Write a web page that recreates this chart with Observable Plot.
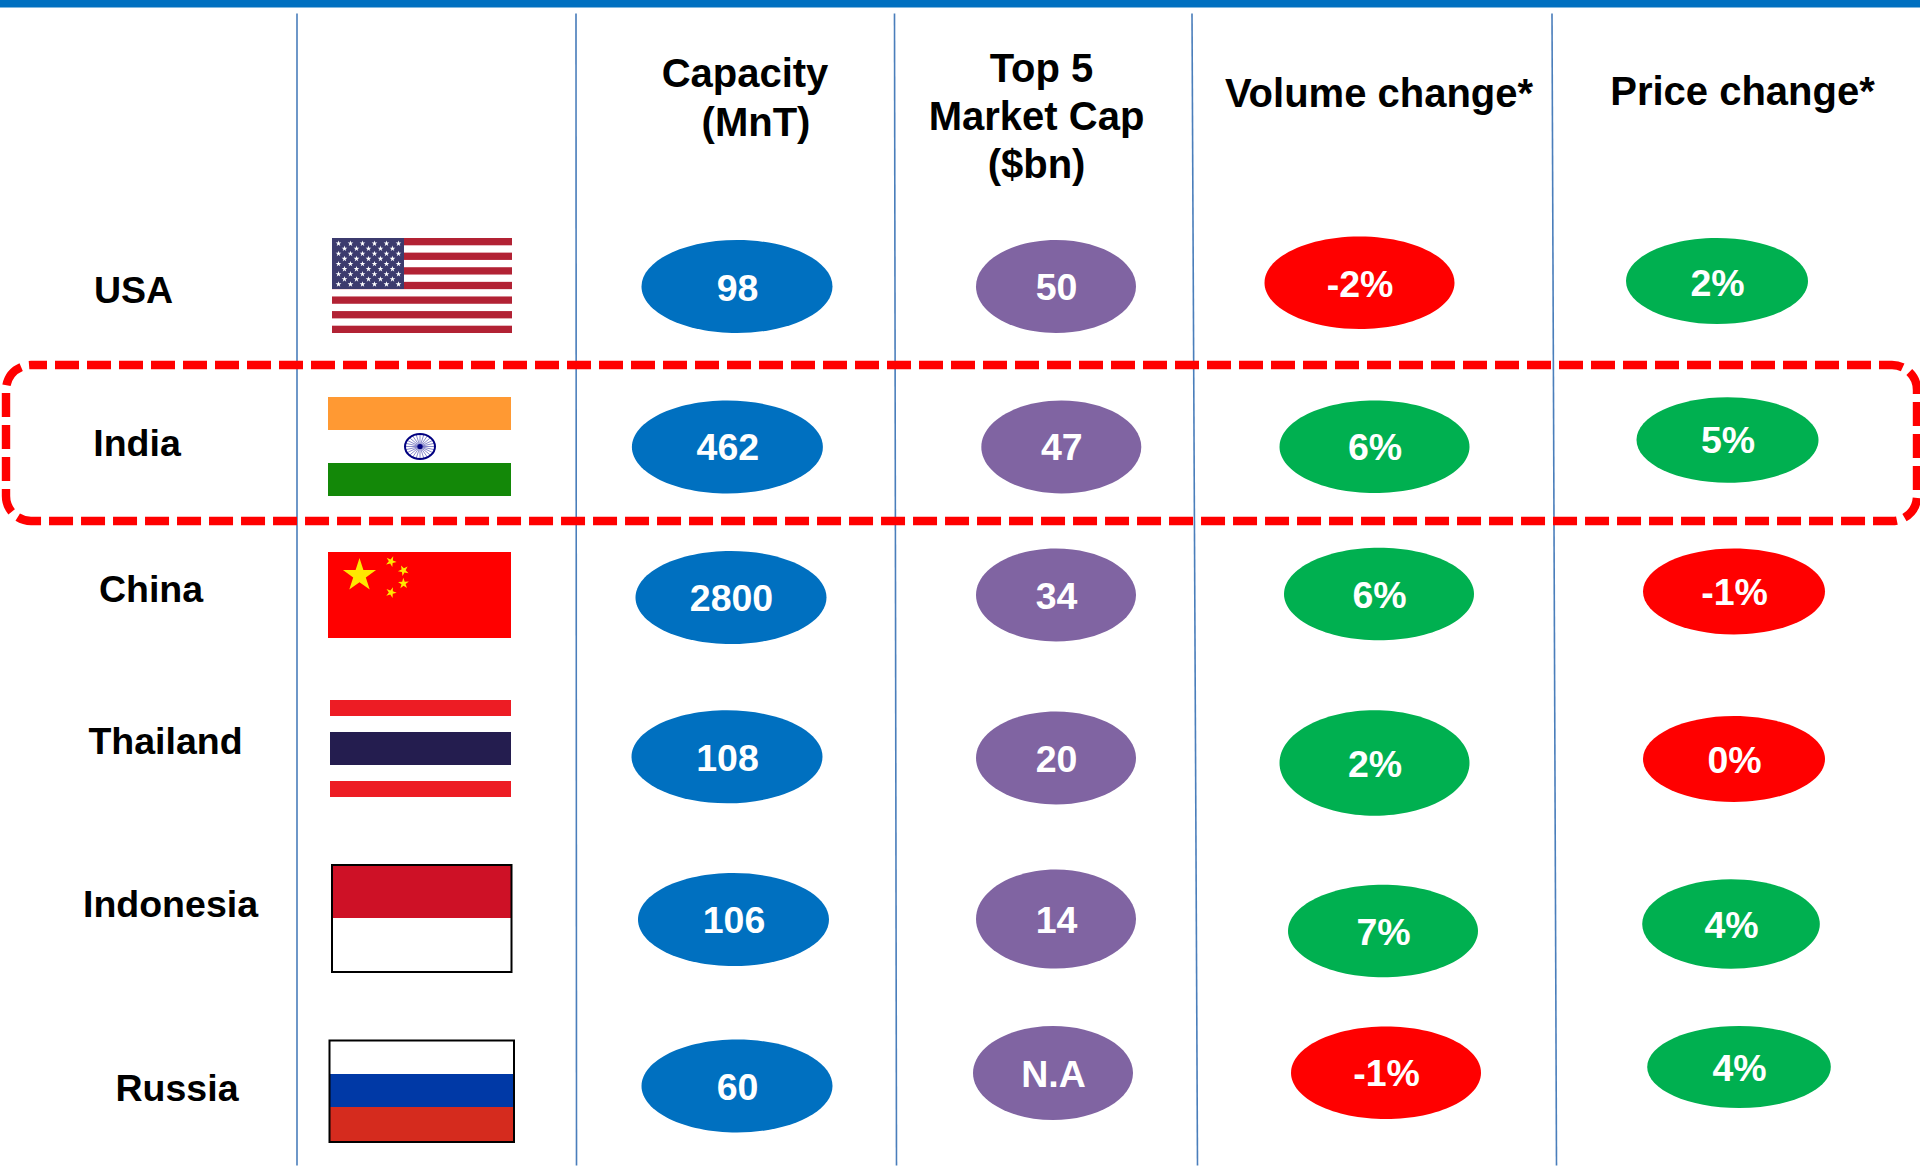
<!DOCTYPE html>
<html>
<head>
<meta charset="utf-8">
<style>
  html, body { margin: 0; padding: 0; background: #fff; }
  svg { display: block; }
</style>
<script src="https://cdn.jsdelivr.net/npm/d3@7"></script>
<script src="https://cdn.jsdelivr.net/npm/@observablehq/plot@0.6"></script>
</head>
<body>
<div id="chart"></div>
<script>
// Table contents
const countries = ["USA", "India", "China", "Thailand", "Indonesia", "Russia"];
const capacity = [98, 462, 2800, 108, 106, 60];
const marketCap = ["50", "47", "34", "20", "14", "N.A"];
const volumeChange = [-2, 6, 6, 2, 7, -1];
const priceChange = [2, 5, -1, 0, 4, 4];

// Layout of the sheet: every row and column is hand placed on a 1920 x 1168 canvas
const labelSpots = [[133, 290], [136.5, 443], [150.5, 589], [165, 741], [170, 904], [176.5, 1088]];
const capacitySpots = [[737, 286.5], [727.4, 447], [731, 597.5], [727, 756.8], [733.5, 919.6], [737, 1086]];
const capSpots = [[1056, 286.5], [1061.3, 447], [1056, 595], [1056, 758], [1056, 919], [1053, 1073]];
const volumeSpots = [[1359.5, 282.7], [1374.5, 446.7], [1379, 594], [1374.5, 763], [1383, 931], [1386, 1072.7]];
const priceSpots = [[1717, 281], [1727.5, 440], [1734, 591.4], [1734, 759], [1731, 924], [1739, 1067]];
const capRadii = [[80, 46.5], [80, 46.5], [80, 46.5], [80, 46.5], [80, 49.6], [80, 47]];
const volumeRadii = [[95, 46.3], [95, 46.3], [95, 46.3], [95, 52.7], [95, 46.3], [95, 46.3]];
const priceRadii = [[91, 43], [91, 42.7], [91, 43], [91, 43], [88.8, 44.7], [91.8, 41]];
// Numbers sit a little below the oval centres, most of all in the first row
const rowTextDrop = [2.2, 0.6, 1.2, 1.2, 1.2, 1.2];

const headerLines = [
  {text: "Capacity", x: 744.5, y: 73.5},
  {text: "(MnT)", x: 755.5, y: 123},
  {text: "Top 5", x: 1041, y: 68.6},
  {text: "Market Cap", x: 1036, y: 117},
  {text: "($bn)", x: 1036, y: 165},
  {text: "Volume change*", x: 1378.5, y: 94},
  {text: "Price change*", x: 1742, y: 92}
];

const rules = [
  {x1: 296.5, x2: 296.5}, {x1: 575.5, x2: 576}, {x1: 894, x2: 896},
  {x1: 1191.5, x2: 1197}, {x1: 1551.5, x2: 1556}
];

const BLUE = "#0070C0", PURPLE = "#8064A2", GREEN = "#00B050", RED = "#FF0000";

// Rectangular pieces of the six flags
const flagBands = [
  {x1: 332, x2: 512, y1: 238, y2: 333, fill: "#fff"},
  ...[0, 2, 4, 6, 8, 10, 12].map(i => ({x1: 332, x2: 512, y1: 238 + i * 95 / 13, y2: 238 + (i + 1) * 95 / 13, fill: "#B22234"})),
  {x1: 332, x2: 404, y1: 238, y2: 289, fill: "#3C3B6E"},
  {x1: 328, x2: 511, y1: 397, y2: 430, fill: "#FF9933"},
  {x1: 328, x2: 511, y1: 463, y2: 496, fill: "#138808"},
  {x1: 328, x2: 511, y1: 552, y2: 638, fill: "#FF0000"},
  {x1: 330, x2: 511, y1: 700, y2: 716, fill: "#ED1C24"},
  {x1: 330, x2: 511, y1: 732, y2: 765, fill: "#241D4F"},
  {x1: 330, x2: 511, y1: 781, y2: 797, fill: "#ED1C24"},
  {x1: 332, x2: 512, y1: 865, y2: 918, fill: "#CE1126"},
  {x1: 329, x2: 514, y1: 1074, y2: 1107, fill: "#0039A6"},
  {x1: 329, x2: 514, y1: 1107, y2: 1142, fill: "#D52B1E"}
];
const flagFrames = [
  {x1: 332, x2: 511.5, y1: 865, y2: 972},
  {x1: 329.5, x2: 514, y1: 1040.5, y2: 1142}
];

// Stars of the American canton: nine staggered rows
const usStars = [];
for (let row = 0; row < 9; ++row) {
  const n = row % 2 ? 5 : 6;
  for (let k = 0; k < n; ++k) usStars.push({x: (row % 2 ? 344 : 338) + k * 12, y: 243 + row * 5.1});
}
const cnStars = [
  {x: 359, y: 575, r: 10.4, rotate: 0},
  {x: 390.5, y: 561, r: 3.4, rotate: 23},
  {x: 403, y: 570, r: 3.4, rotate: 46},
  {x: 403, y: 583, r: 3.4, rotate: 70},
  {x: 390.5, y: 592, r: 3.4, rotate: 20}
];
// Ashoka chakra: 24 spokes around the hub
const chakra = {x: 419.5, y: 446, rx: 15, ry: 12.5};
const spokes = d3.range(24).map(i => {
  const a = i * Math.PI / 12;
  return {x1: chakra.x, y1: chakra.y, x2: chakra.x + chakra.rx * Math.cos(a), y2: chakra.y + chakra.ry * Math.sin(a)};
});

// Custom dot symbol: an ellipse whose height is `ratio` times its width
function ellipse(ratio) {
  const k = 0.5522848;
  return {
    draw(ctx, size) {
      const a = Math.sqrt(size / Math.PI), b = a * ratio;
      ctx.moveTo(a, 0);
      ctx.bezierCurveTo(a, k * b, k * a, b, 0, b);
      ctx.bezierCurveTo(-k * a, b, -a, k * b, -a, 0);
      ctx.bezierCurveTo(-a, -k * b, -k * a, -b, 0, -b);
      ctx.bezierCurveTo(k * a, -b, a, -k * b, a, 0);
      ctx.closePath();
    }
  };
}

// One filled oval with its value written in the middle
function oval(label, [x, y], [rx, ry], fill, drop) {
  return [
    Plot.dot([{x, y}], {x: "x", y: "y", r: rx, symbol: ellipse(ry / rx), fill, stroke: "none", dx: -0.5, dy: -0.5}),
    Plot.text([{x, y, label}], {x: "x", y: "y", text: "label", fill: "#fff", fontSize: 37.5, fontWeight: "bold", dy: drop})
  ];
}
const pct = v => `${v}%`;
const signFill = v => v > 0 ? GREEN : RED;

const chart = Plot.plot({
  width: 1920,
  height: 1168,
  margin: 0,
  style: {fontFamily: "'Liberation Sans', Arial, sans-serif", background: "#fff"},
  x: {domain: [0, 1920], range: [0, 1920], axis: null},
  y: {domain: [0, 1168], range: [0, 1168], axis: null},
  color: {type: "identity"},
  r: {type: "identity"},
  marks: [
    Plot.rect([{}], {x1: () => 0, x2: () => 1920, y1: () => 0, y2: () => 7.5, fill: () => BLUE}),
    Plot.link(rules, {x1: "x1", x2: "x2", y1: () => 13, y2: () => 1165, stroke: "#4A7EBB", strokeWidth: 1.6}),

    // Flags
    Plot.rect(flagBands, {x1: "x1", x2: "x2", y1: "y1", y2: "y2", fill: "fill"}),
    Plot.rect(flagFrames, {x1: "x1", x2: "x2", y1: "y1", y2: "y2", fill: "none", stroke: "#000", strokeWidth: 2}),
    Plot.dot(usStars, {x: "x", y: "y", r: 1.8, symbol: "star", fill: "#fff"}),
    Plot.dot(cnStars, {x: "x", y: "y", r: "r", rotate: "rotate", symbol: "star", fill: "#FFE800"}),
    Plot.link(spokes, {x1: "x1", y1: "y1", x2: "x2", y2: "y2", stroke: "#3A3AA6", strokeWidth: 0.8, strokeOpacity: 0.75}),
    Plot.dot([chakra], {x: "x", y: "y", r: chakra.rx, symbol: ellipse(chakra.ry / chakra.rx), fill: "none", stroke: "#000080", strokeWidth: 2}),
    Plot.dot([chakra], {x: "x", y: "y", r: 2.6, fill: "#000080"}),

    // Highlight around the India row
    Plot.rect([{}], {x1: () => 6, x2: () => 1917, y1: () => 365, y2: () => 521, rx: 25, ry: 25,
      fill: "none", stroke: RED, strokeWidth: 8.4, strokeDasharray: "24,8", strokeDashoffset: 8}),

    // Column headers and row labels
    Plot.text(headerLines, {x: "x", y: "y", text: "text", fill: "#000", fontSize: 40, fontWeight: "bold"}),
    Plot.text(countries.map((name, i) => ({name, x: labelSpots[i][0], y: labelSpots[i][1]})),
      {x: "x", y: "y", text: "name", fill: "#000", fontSize: 37.5, fontWeight: "bold"}),

    // Value ovals, one column at a time
    capacity.map((v, i) => oval(String(v), capacitySpots[i], [95.5, 46.5], BLUE, rowTextDrop[i])),
    marketCap.map((v, i) => oval(v, capSpots[i], capRadii[i], PURPLE, rowTextDrop[i] - (i === 0 ? 1 : 0))),
    volumeChange.map((v, i) => oval(pct(v), volumeSpots[i], volumeRadii[i], signFill(v), rowTextDrop[i])),
    priceChange.map((v, i) => oval(pct(v), priceSpots[i], priceRadii[i], signFill(v), rowTextDrop[i]))
  ]
});
document.getElementById("chart").append(chart);
</script>
</body>
</html>
